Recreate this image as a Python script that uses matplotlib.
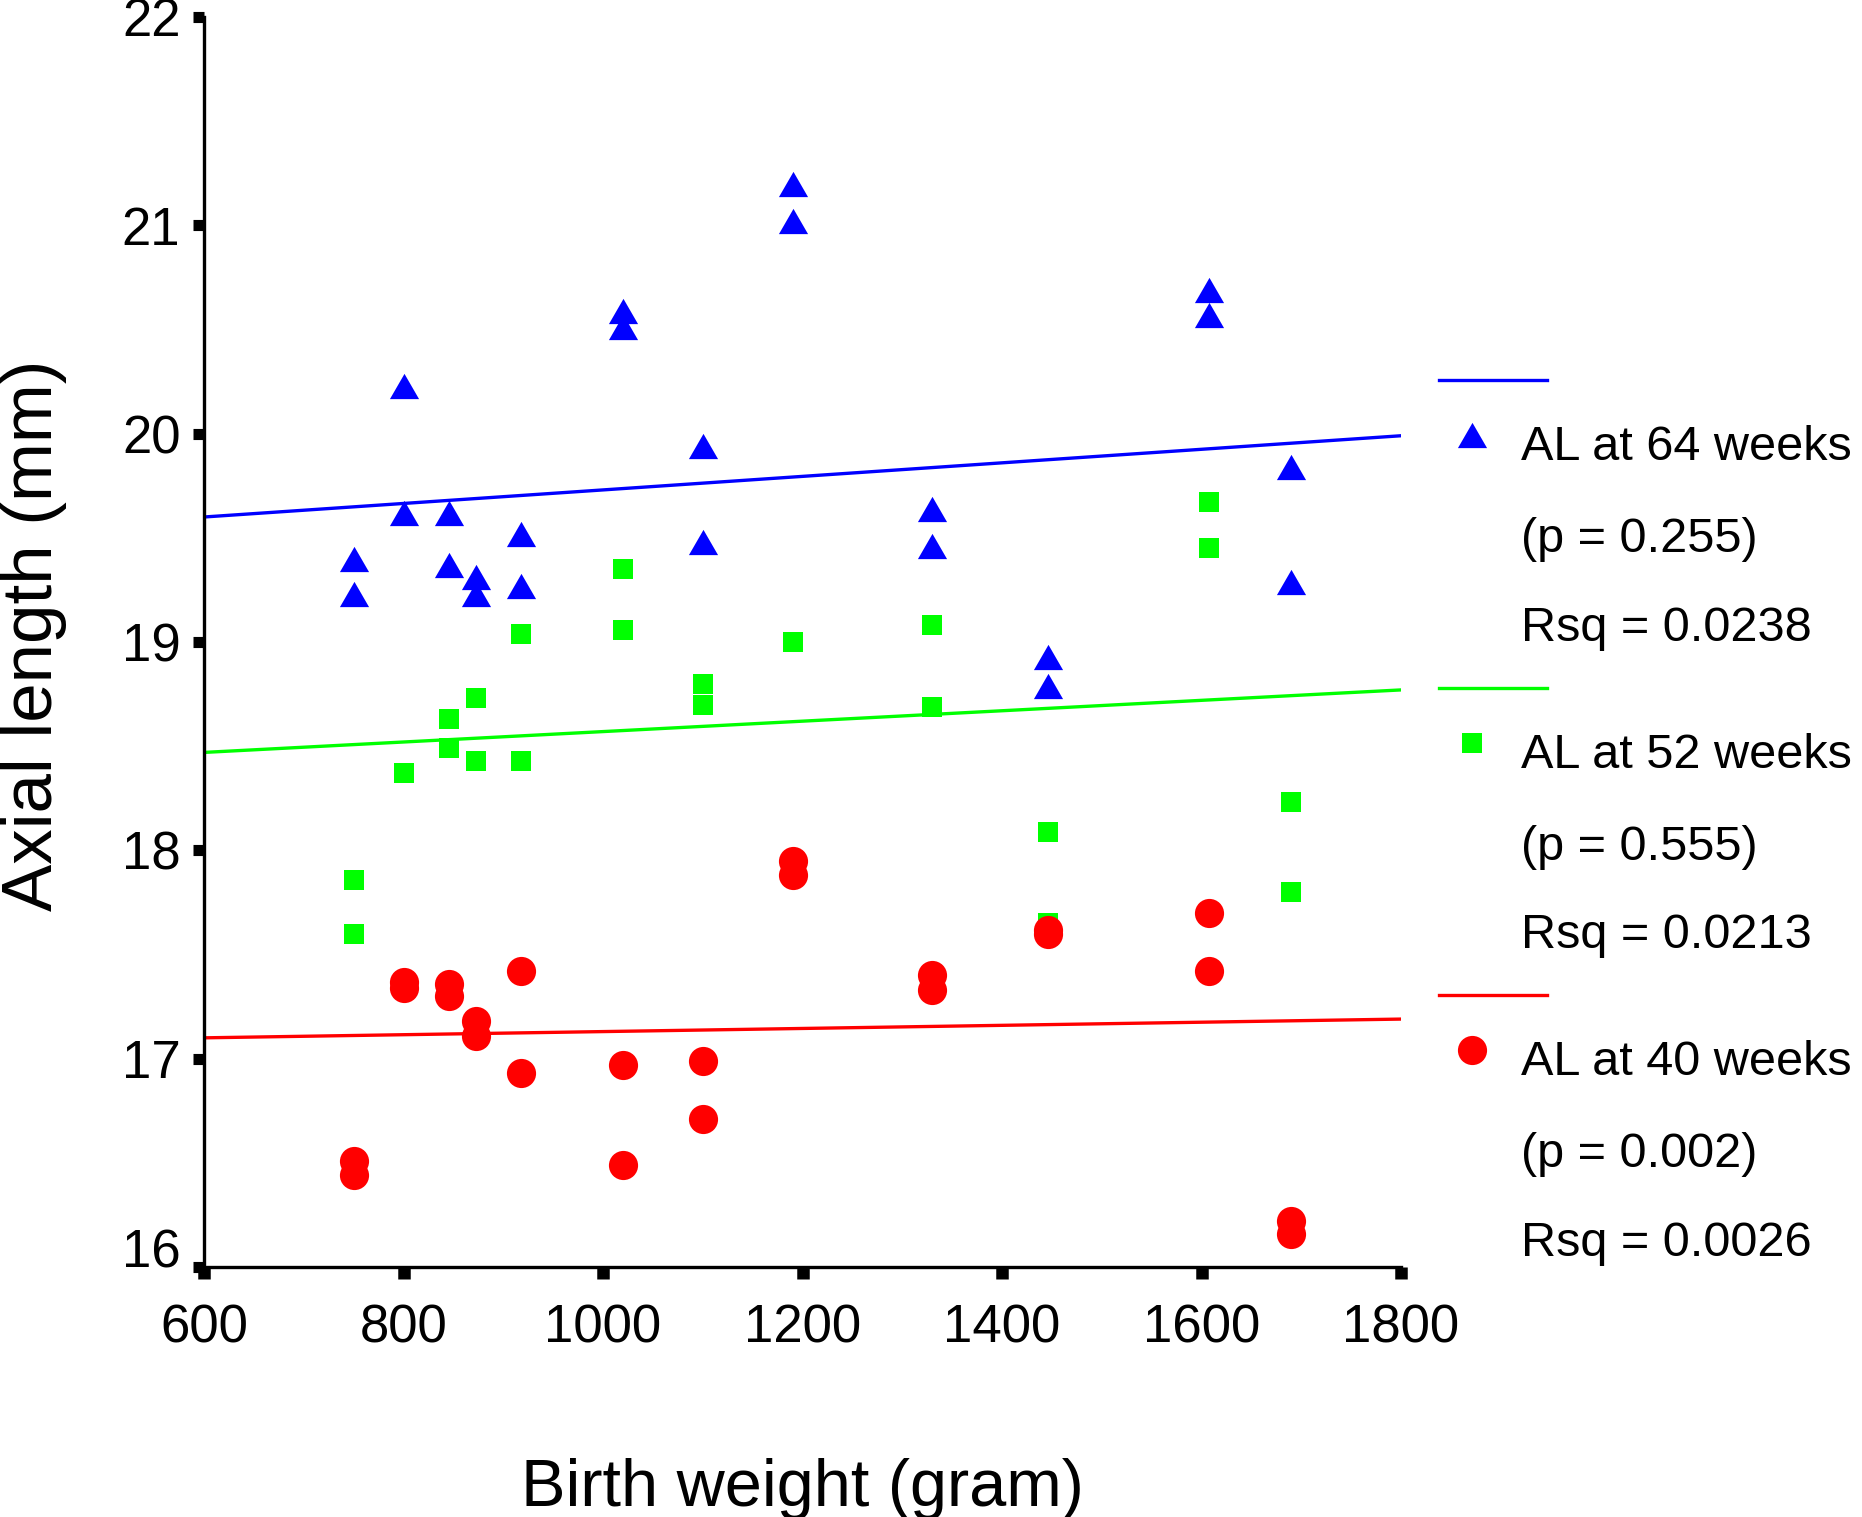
import matplotlib
matplotlib.use("Agg")
import matplotlib.pyplot as plt
from matplotlib.lines import Line2D
from matplotlib.path import Path

plt.rcParams['font.family'] = ['Liberation Sans', 'DejaVu Sans']

# ---------------- data ----------------
birth_weight = [750, 750, 800, 800, 846, 846, 873, 873, 918, 918, 1020, 1020,
                1100, 1100, 1190, 1190, 1330, 1330, 1446, 1446, 1608, 1608, 1690, 1690]

al_64 = [19.40, 19.23, 20.23, 19.62, 19.62, 19.37, 19.31, 19.23, 19.52, 19.27, 20.59, 20.51,
         19.94, 19.48, 21.20, 21.02, 19.64, 19.46, 18.93, 18.79, 20.69, 20.57, 19.84, 19.29]
al_52 = [17.86, 17.60, 18.37, 18.37, 18.63, 18.49, 18.73, 18.43, 19.04, 18.43, 19.35, 19.06,
         18.80, 18.70, 19.00, 19.00, 19.08, 18.69, 18.09, 17.65, 19.67, 19.45, 18.23, 17.80]
al_40 = [16.51, 16.44, 17.37, 17.34, 17.36, 17.30, 17.18, 17.11, 17.42, 16.93, 16.97, 16.49,
         16.99, 16.71, 17.95, 17.88, 17.40, 17.33, 17.62, 17.60, 17.70, 17.42, 16.22, 16.16]

fit_x = [600, 1800]
fit_64 = [19.60, 19.99]
fit_52 = [18.47, 18.77]
fit_40 = [17.10, 17.19]

series_labels = ["AL at 64 weeks", "AL at 52 weeks", "AL at 40 weeks"]
p_labels = ["(p = 0.255)", "(p = 0.555)", "(p = 0.002)"]
rsq_labels = ["Rsq = 0.0238", "Rsq = 0.0213", "Rsq = 0.0026"]

x_ticks = [600, 800, 1000, 1200, 1400, 1600, 1800]
y_ticks = [16, 17, 18, 19, 20, 21, 22]
x_label = "Birth weight (gram)"
y_label = "Axial length (mm)"

# ---------------- style ----------------
W, H = 1862, 1517
DPI = 100
fig = plt.figure(figsize=(W / DPI, H / DPI), dpi=DPI)

def fx(px):
    return px / W

def fy(py):
    return 1 - py / H

ax = fig.add_axes([fx(204), fy(1267), (1401 - 204) / W, (1267 - 17) / H])

BLUE = '#0000FF'
GREEN = '#00FF00'
RED = '#FF0000'

tri = Path([(-1, -0.866), (1, -0.866), (0, 0.866), (-1, -0.866)],
           [Path.MOVETO, Path.LINETO, Path.LINETO, Path.CLOSEPOLY])

mk = {
    '64': dict(marker=tri, markersize=21, color=BLUE),
    '52': dict(marker='s', markersize=15, color=GREEN),
    '40': dict(marker='o', markersize=21, color=RED),
}

ax.plot(fit_x, fit_64, color=BLUE, lw=2.4, solid_capstyle='round', zorder=2)
ax.plot(fit_x, fit_52, color=GREEN, lw=2.4, solid_capstyle='round', zorder=2)
ax.plot(fit_x, fit_40, color=RED, lw=2.4, solid_capstyle='round', zorder=2)

ax.plot(birth_weight, al_64, linestyle='none', mew=0, zorder=3, **mk['64'])
ax.plot(birth_weight, al_52, linestyle='none', mew=0, zorder=3, **mk['52'])
ax.plot(birth_weight, al_40, linestyle='none', mew=0, zorder=4, **mk['40'])

ax.set_xlim(600, 1800)
ax.set_ylim(16, 22)
ax.set_xticks(x_ticks)
ax.set_yticks(y_ticks)
ax.set_xticklabels([str(v) for v in x_ticks])
ax.set_yticklabels([str(v) for v in y_ticks])

for s in ['top', 'right']:
    ax.spines[s].set_visible(False)
for s in ['left', 'bottom']:
    ax.spines[s].set_linewidth(2.4)
    ax.spines[s].set_color('black')

ax.tick_params(axis='x', direction='out', length=8.5, width=9, pad=18,
               labelsize=38, colors='black')
ax.tick_params(axis='y', direction='out', length=8, width=8, pad=9,
               labelsize=38, colors='black')

# raise the lowest y tick label as in the reference
ax.yaxis.get_major_ticks()[0].label1.set_va('baseline')

fig.text(fx(802), fy(1506), x_label, ha='center', va='baseline', fontsize=48)
fig.text(fx(34), fy(635), y_label, ha='center', va='center', rotation=90, fontsize=51)

# ---------------- legend (manual layout) ----------------
colors = [BLUE, GREEN, RED]
keys = ['64', '52', '40']
for g in range(3):
    off = 307.5 * g
    fig.add_artist(Line2D([fx(1439), fx(1547)], [fy(380 + off), fy(380 + off)],
                          color=colors[g], lw=2.4, transform=fig.transFigure))
    fig.add_artist(Line2D([fx(1472)], [fy(435 + off)], linestyle='none', mew=0,
                          transform=fig.transFigure, **mk[keys[g]]))
    fig.text(fx(1521), fy(460 + off), series_labels[g], ha='left', va='baseline', fontsize=35)
    fig.text(fx(1521), fy(552 + off), p_labels[g], ha='left', va='baseline', fontsize=35)
    fig.text(fx(1521), fy(641 + off), rsq_labels[g], ha='left', va='baseline', fontsize=35)

fig.savefig('out.png', dpi=DPI)
